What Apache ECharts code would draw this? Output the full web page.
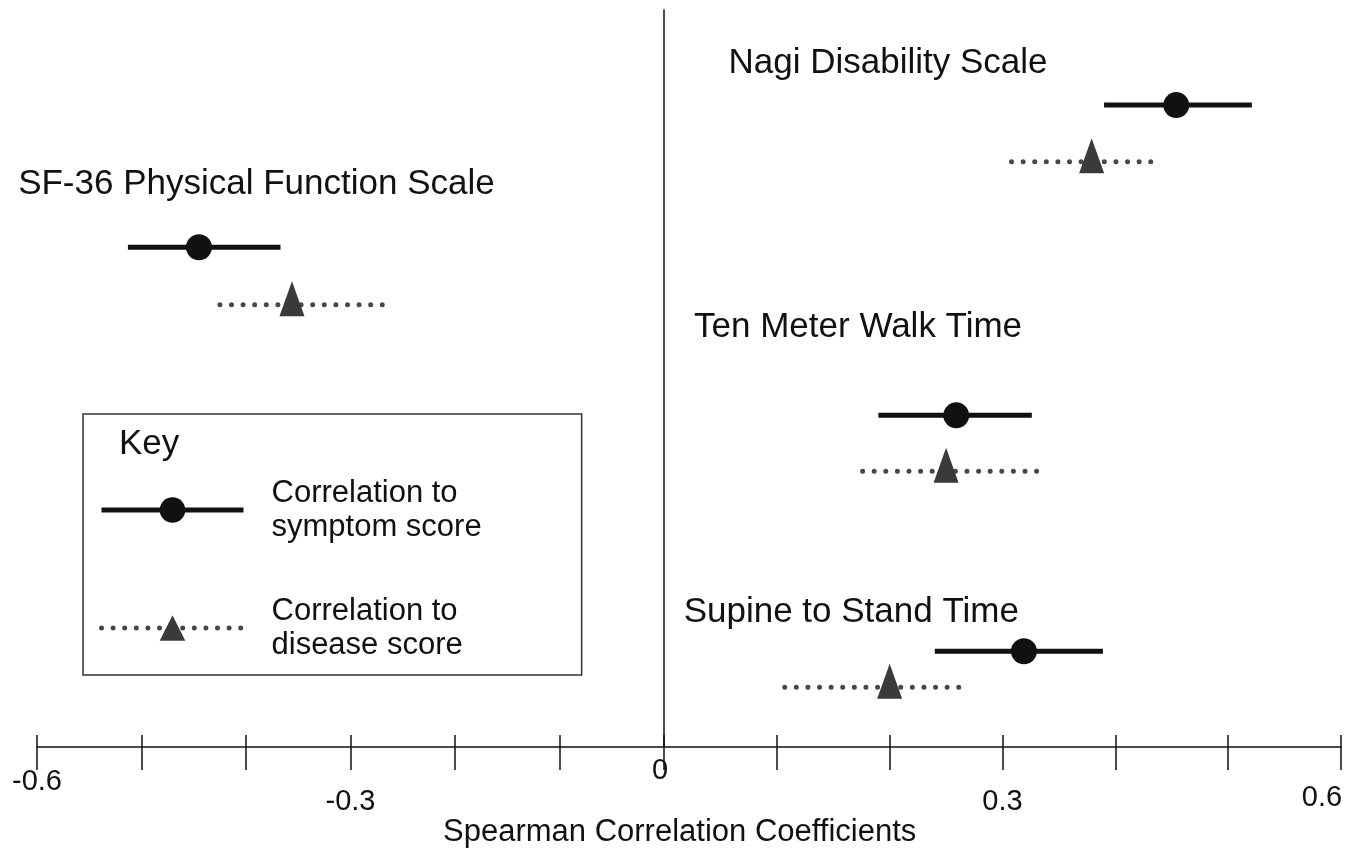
<!DOCTYPE html>
<html>
<head>
<meta charset="utf-8">
<script src="https://cdn.jsdelivr.net/npm/echarts@6/dist/echarts.min.js"></script>
<style>html,body{margin:0;padding:0;background:#fff}#chart{width:1366px;height:850px}</style>
</head>
<body>
<div id="chart"></div>
<script>
// ---------------- data ----------------
const measures = ['Nagi Disability Scale', 'SF-36 Physical Function Scale', 'Ten Meter Walk Time', 'Supine to Stand Time'];
const symptomEst  = [0.454, -0.445, 0.259, 0.319];
const symptomLow  = [0.390, -0.513, 0.190, 0.240];
const symptomHigh = [0.521, -0.367, 0.326, 0.389];
const diseaseEst  = [0.379, -0.356, 0.250, 0.200];
const diseaseLow  = [0.308, -0.425, 0.176, 0.107];
const diseaseHigh = [0.435, -0.264, 0.333, 0.269];
const labelledTicks = [-0.6, -0.3, 0, 0.3, 0.6];
const seriesNames = ['Correlation to symptom score', 'Correlation to disease score'];
const axisTitle = 'Spearman Correlation Coefficients';
const keyTitle = 'Key';

// ---------------- layout (not data) ----------------
const rowLevel = {            // vertical slots on a hidden 0..100 axis
  label:   [7.3, 23.7, 43.0, 81.7],
  symptom: [12.9, 32.2, 55.0, 87.0],
  disease: [20.6, 40.0, 62.6, 91.9]
};
const labelCenterX = [0.1985, -0.390, 0.172, 0.166];
const tickLabelStyleKey = {'-0.6': 'a', '-0.3': 'b', '0': 'z', '0.3': 'b', '0.6': 'c'};

const FONT = '"Liberation Sans", Arial, Helvetica, sans-serif';
const INK = '#111';
const side = i => (symptomEst[i] < 0 ? 0 : 1); // 0 = left (negative) grid, 1 = right grid
const xMain = g => (g === 0 ? 0 : 2);

function tickFormatter(skipZero) {
  return function (v) {
    const t = labelledTicks.find(x => Math.abs(x - v) < 1e-9);
    if (t === undefined) return '';
    if (skipZero && t === 0) return '';
    const s = String(t);
    return '{' + tickLabelStyleKey[s] + '|' + s + '}';
  };
}
const tk = {fontSize: 29, lineHeight: 29, color: INK, fontFamily: FONT};
const richTicks = {
  a: Object.assign({}, tk, {padding: [22, 0, 0, 0]}),
  b: Object.assign({}, tk, {padding: [62, 0, 0, 0]}),
  c: Object.assign({}, tk, {padding: [54, 38, 0, 0]}),
  z: Object.assign({}, tk, {padding: [0, 8, 0, 0]})
};
const axisLineStyle = {color: INK, width: 1.5};

function mainX(g, min, max, skipZero) {
  return {
    gridIndex: g, type: 'value', min: min, max: max, interval: 0.1, position: 'bottom',
    axisLine: {show: true, onZero: false, lineStyle: axisLineStyle},
    axisTick: {show: true, length: 23, lineStyle: axisLineStyle},
    axisLabel: {show: true, margin: 9, interval: 0, showMinLabel: true, showMaxLabel: true,
                formatter: tickFormatter(skipZero), rich: richTicks},
    splitLine: {show: false}
  };
}
function overlayX(g, min, max) {
  return {
    gridIndex: g, type: 'value', min: min, max: max, interval: 0.1, position: 'bottom',
    axisLine: {show: false, onZero: false},
    axisTick: {show: true, inside: true, length: 12, lineStyle: axisLineStyle},
    axisLabel: {show: false}, splitLine: {show: false}
  };
}
function hiddenY(g, showLine) {
  return {
    gridIndex: g, type: 'value', min: 0, max: 100, inverse: true, position: 'left',
    axisLine: {show: showLine, onZero: false, lineStyle: axisLineStyle},
    axisTick: {show: false}, axisLabel: {show: false}, splitLine: {show: false}
  };
}

const series = [];
measures.forEach((m, i) => {
  const g = side(i);
  series.push({
    name: seriesNames[0], type: 'line', xAxisIndex: xMain(g), yAxisIndex: g,
    symbol: 'circle', symbolSize: 26, showSymbol: true, showAllSymbol: true, silent: true,
    itemStyle: {color: INK, opacity: 1}, lineStyle: {color: INK, width: 5, cap: 'butt'},
    data: [
      {value: [symptomLow[i], rowLevel.symptom[i]], symbol: 'none'},
      {value: [symptomEst[i], rowLevel.symptom[i]]},
      {value: [symptomHigh[i], rowLevel.symptom[i]], symbol: 'none'}
    ],
    z: 3
  });
});
measures.forEach((m, i) => {
  const g = side(i);
  series.push({
    name: seriesNames[1], type: 'line', xAxisIndex: xMain(g), yAxisIndex: g,
    symbol: 'triangle', symbolSize: [25, 35], symbolOffset: [0, -6], showSymbol: true, showAllSymbol: true, silent: true,
    itemStyle: {color: '#3a3a3a', opacity: 1}, lineStyle: {color: '#474747', width: 5, type: [0, 11.6], cap: 'round'},
    data: [
      {value: [diseaseLow[i], rowLevel.disease[i]], symbol: 'none'},
      {value: [diseaseEst[i], rowLevel.disease[i]]},
      {value: [diseaseHigh[i], rowLevel.disease[i]], symbol: 'none'}
    ],
    z: 3
  });
});
[0, 1].forEach(g => {
  series.push({
    name: 'labels' + g, type: 'scatter', xAxisIndex: xMain(g), yAxisIndex: g, silent: true,
    symbolSize: 1, itemStyle: {color: 'rgba(0,0,0,0)', opacity: 1}, clip: false,
    label: {show: true, position: 'inside', formatter: '{b}', fontSize: 35, color: INK, opacity: 1, fontFamily: FONT},
    data: measures.map((m, i) => ({name: m, value: [labelCenterX[i], rowLevel.label[i]]}))
                  .filter((d, i) => side(i) === g),
    z: 5
  });
});

const chart = echarts.init(document.getElementById('chart'), null, {renderer: 'canvas'});
chart.setOption({
  animation: false,
  backgroundColor: '#fff',
  textStyle: {fontFamily: FONT, color: INK},
  grid: [
    {left: 37, right: 702, top: 10, bottom: 103, outerBoundsMode: 'none', containLabel: false},
    {left: 664, right: 25, top: 10, bottom: 103, outerBoundsMode: 'none', containLabel: false}
  ],
  xAxis: [mainX(0, -0.6, 0, false), overlayX(0, -0.6, 0), mainX(1, 0, 0.6, true), overlayX(1, 0, 0.6)],
  yAxis: [hiddenY(0, false), hiddenY(1, true)],
  title: [
    {text: axisTitle, left: 443, top: 817, padding: 0,
     textStyle: {fontSize: 31, lineHeight: 31, fontWeight: 'normal', color: INK, fontFamily: FONT}},
    {text: keyTitle, left: 119, top: 427, padding: 0,
     textStyle: {fontSize: 35, lineHeight: 35, fontWeight: 'normal', color: INK, fontFamily: FONT}}
  ],
  legend: {
    data: seriesNames, orient: 'vertical', left: 83, top: 414,
    padding: [62, 100, 13, 16], itemWidth: 142, itemHeight: 32, itemGap: 50,
    borderColor: '#333', borderWidth: 1.5, selectedMode: false,
    formatter: n => n.replace(' to ', ' to\n'),
    textStyle: {fontSize: 31, lineHeight: 34, color: INK, fontFamily: FONT, padding: [0, 0, 0, 23]},
    lineStyle: {width: 5}
  },
  series: series
});
</script>
</body>
</html>
